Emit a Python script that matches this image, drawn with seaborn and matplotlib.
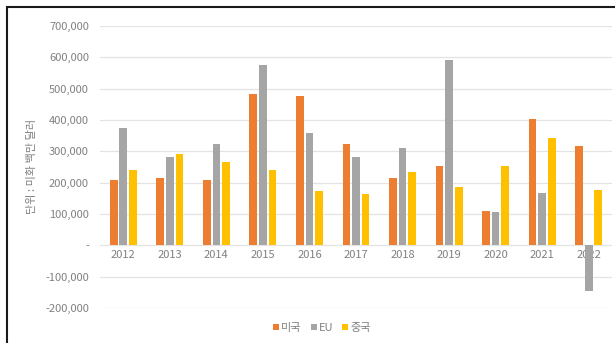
import matplotlib
matplotlib.use("Agg")
import matplotlib.pyplot as plt
import matplotlib.ticker as mticker
from matplotlib.patches import Rectangle, Patch
import seaborn as sns
import pandas as pd

years = ["2012", "2013", "2014", "2015", "2016", "2017",
         "2018", "2019", "2020", "2021", "2022"]
usa = [210000, 215000, 210000, 484000, 478000, 322000,
       215000, 254000, 108000, 404000, 318000]
eu = [376000, 283000, 322000, 575000, 360000, 283000,
      311000, 592000, 106000, 166000, -146000]
china = [242000, 290000, 267000, 242000, 173000, 164000,
         234000, 186000, 252000, 344000, 178000]
series_names = ["미국", "EU", "중국"]
colors = ["#ED7D31", "#A5A5A5", "#FFC000"]
y_ticks = [-200000, -100000, 0, 100000, 200000, 300000, 400000, 500000, 600000, 700000]
y_label = "단위 : 미화 백만 달러"

df = pd.DataFrame({
    "year": years * 3,
    "value": usa + eu + china,
    "series": [series_names[0]] * len(years)
              + [series_names[1]] * len(years)
              + [series_names[2]] * len(years),
})

sns.set_theme(style="whitegrid")
plt.rcParams["font.family"] = ["Noto Sans CJK KR", "DejaVu Sans"]

fig = plt.figure(figsize=(6.15, 3.43), dpi=100)
ax = fig.add_axes([100 / 615, 35 / 343, 512 / 615, 282 / 343])

sns.barplot(data=df, x="year", y="value", hue="series", order=years,
            hue_order=series_names, palette=colors, width=0.62, gap=0.2,
            saturation=1, linewidth=0, ax=ax, legend=False)

ax.set_ylim(-200000, 700000)
ax.set_yticks(y_ticks)


def fmt(v, pos):
    if v == 0:
        return "-"
    return f"{int(v):,}"


ax.yaxis.set_major_formatter(mticker.FuncFormatter(fmt))
ax.grid(axis="y", color="#E3E3E3", linewidth=0.9)
ax.grid(axis="x", visible=False)
for s in ax.spines.values():
    s.set_visible(False)
ax.spines["bottom"].set_position(("data", 0))
ax.tick_params(axis="both", length=0, labelsize=8, colors="#808080")
ax.tick_params(axis="x", pad=3)
ax.tick_params(axis="y", pad=8)
ax.set_xlabel("")
ax.set_ylabel("")
ax.set_xlim(-0.5, len(years) - 0.5)

fig.text(32 / 615, 1 - 166 / 343, y_label, rotation=90, ha="center",
         va="center", fontsize=8, color="#808080")

handles = [Patch(facecolor=c, edgecolor="none") for c in colors]
fig.legend(handles, series_names, loc="center",
           bbox_to_anchor=(322 / 615, 1 - 328 / 343), ncol=3, frameon=False,
           fontsize=8, labelcolor="#808080", handlelength=0.55,
           handleheight=0.55, handletextpad=0.2, columnspacing=0.8)

# outer chart frame
fig.patches.append(Rectangle((6.5 / 615, -0.1), 1.2, 1 - 7 / 343 + 0.1,
                             transform=fig.transFigure, fill=False,
                             edgecolor="#1A1A1A", linewidth=1.5))

fig.savefig("out.png", dpi=100)
